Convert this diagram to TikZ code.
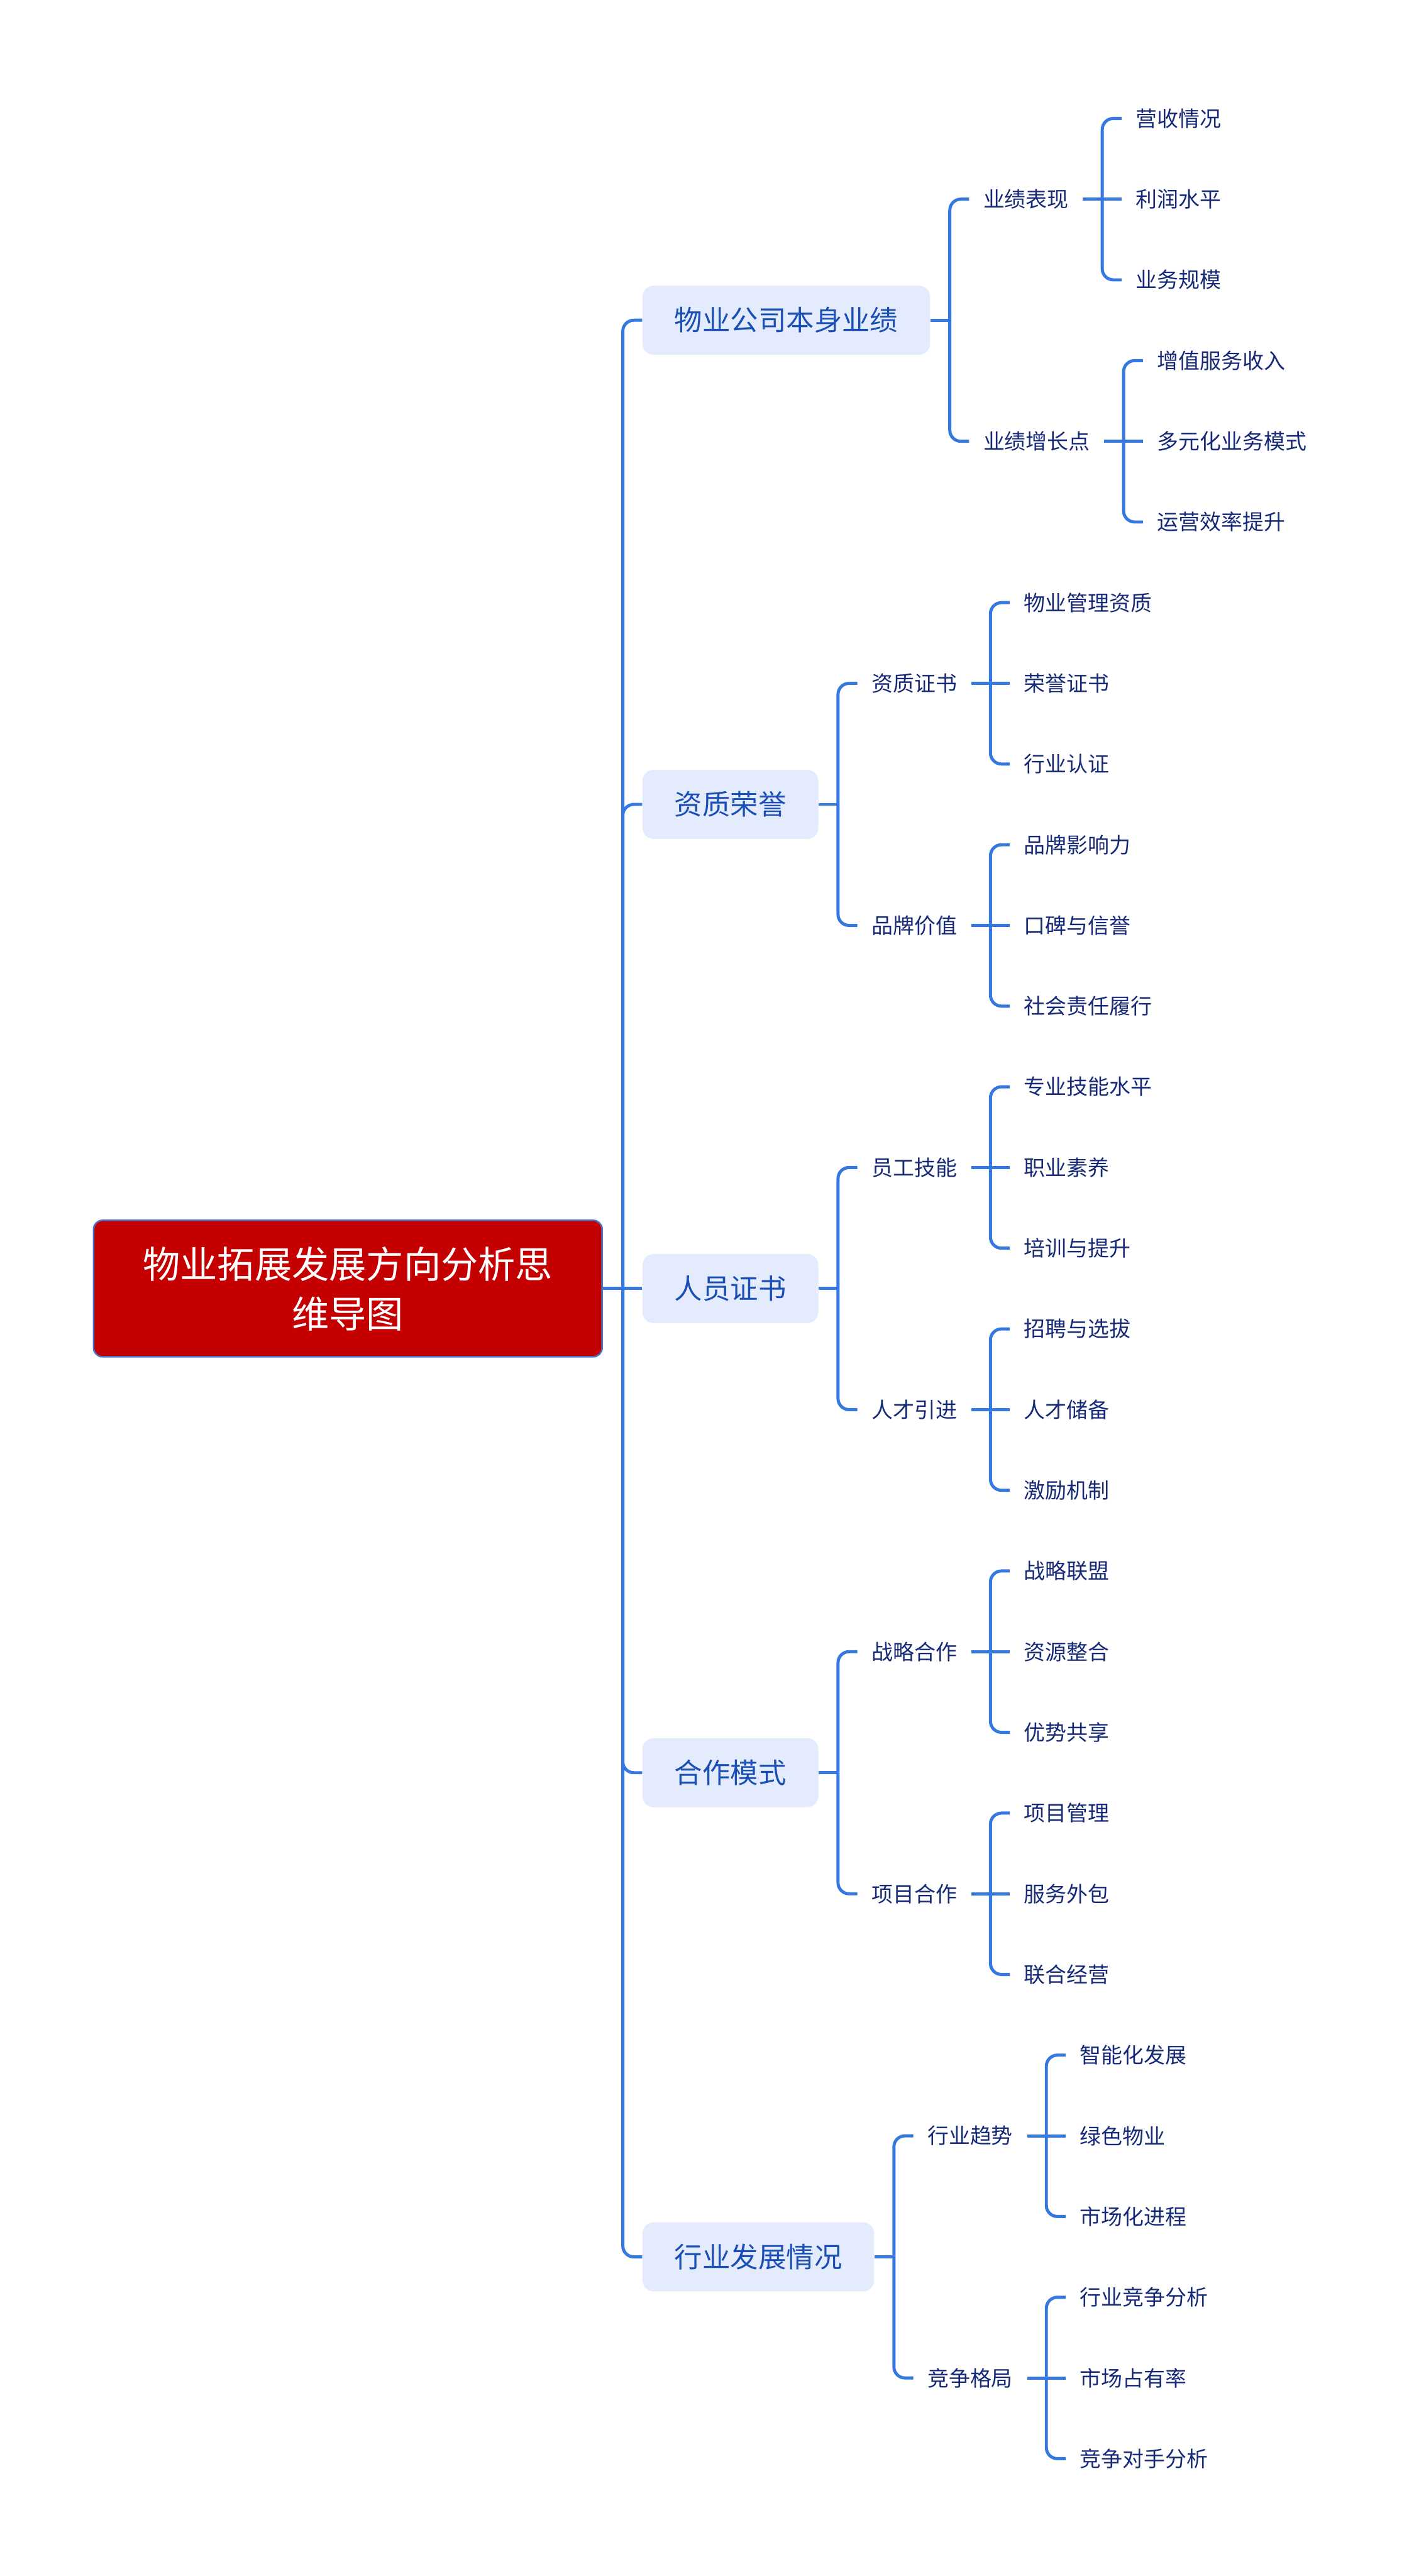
\documentclass[tikz,border=0pt]{standalone}
\usepackage{fontspec}
\setmainfont{Noto Sans CJK SC}
\usetikzlibrary{positioning}
\definecolor{rootred}{HTML}{C40000}
\definecolor{rootedge}{HTML}{4A72C8}
\definecolor{topicbg}{HTML}{E4EBFC}
\definecolor{topicfg}{HTML}{1A4FB5}
\definecolor{leaffg}{HTML}{172A77}
\definecolor{linkblue}{HTML}{3478E0}

\begin{document}
\begin{tikzpicture}[
    node distance=7.1mm,
    root/.style={draw=rootedge,line width=0.8pt,fill=rootred,text=white,rounded corners=1.6mm,align=center,
                 font=\fontsize{19.2}{25.6}\selectfont,minimum width=92.1mm,minimum height=24.7mm,inner sep=0pt},
    topic/.style={fill=topicbg,text=topicfg,rounded corners=2mm,font=\fontsize{14.4}{17}\selectfont,
                  minimum height=12.5mm,inner xsep=5.8mm,inner ysep=0pt},
    sub/.style={text=leaffg,font=\fontsize{11}{13}\selectfont,inner xsep=2.5mm,inner ysep=1mm},
    leaf/.style={sub},
    link/.style={linkblue,line width=1.6pt},
    elbow/.style={link,rounded corners=2mm}]
    \fill[white] (-6.3,-23.31) rectangle (19.3,23.33);
    \useasboundingbox (-6.3,-23.31) rectangle (19.3,23.33);

    \node[root] (root) {物业拓展发展方向分析思\\维导图};

    % main topics
    \node[topic,right=of root,yshift=175.32mm] (perf) {物业公司本身业绩};
    \node[topic,right=of root,yshift=87.66mm] (hon) {资质荣誉};
    \node[topic,right=of root] (staff) {人员证书};
    \node[topic,right=of root,yshift=-87.66mm] (coop) {合作模式};
    \node[topic,right=of root,yshift=-175.32mm] (ind) {行业发展情况};

    % sub topics
    \node[sub,right=7mm of perf,yshift=21.92mm] (perf1) {业绩表现};
    \node[sub,right=7mm of perf,yshift=-21.92mm] (perf2) {业绩增长点};
    \node[sub,right=7mm of hon,yshift=21.92mm] (hon1) {资质证书};
    \node[sub,right=7mm of hon,yshift=-21.92mm] (hon2) {品牌价值};
    \node[sub,right=7mm of staff,yshift=21.92mm] (staff1) {员工技能};
    \node[sub,right=7mm of staff,yshift=-21.92mm] (staff2) {人才引进};
    \node[sub,right=7mm of coop,yshift=21.92mm] (coop1) {战略合作};
    \node[sub,right=7mm of coop,yshift=-21.92mm] (coop2) {项目合作};
    \node[sub,right=7mm of ind,yshift=21.92mm] (ind1) {行业趋势};
    \node[sub,right=7mm of ind,yshift=-21.92mm] (ind2) {竞争格局};

    % leaves
    \node[leaf,right=7mm of perf1,yshift=14.61mm] (perf1a) {营收情况};
    \node[leaf,right=7mm of perf1] (perf1b) {利润水平};
    \node[leaf,right=7mm of perf1,yshift=-14.61mm] (perf1c) {业务规模};
    \node[leaf,right=7mm of perf2,yshift=14.61mm] (perf2a) {增值服务收入};
    \node[leaf,right=7mm of perf2] (perf2b) {多元化业务模式};
    \node[leaf,right=7mm of perf2,yshift=-14.61mm] (perf2c) {运营效率提升};
    \node[leaf,right=7mm of hon1,yshift=14.61mm] (hon1a) {物业管理资质};
    \node[leaf,right=7mm of hon1] (hon1b) {荣誉证书};
    \node[leaf,right=7mm of hon1,yshift=-14.61mm] (hon1c) {行业认证};
    \node[leaf,right=7mm of hon2,yshift=14.61mm] (hon2a) {品牌影响力};
    \node[leaf,right=7mm of hon2] (hon2b) {口碑与信誉};
    \node[leaf,right=7mm of hon2,yshift=-14.61mm] (hon2c) {社会责任履行};
    \node[leaf,right=7mm of staff1,yshift=14.61mm] (staff1a) {专业技能水平};
    \node[leaf,right=7mm of staff1] (staff1b) {职业素养};
    \node[leaf,right=7mm of staff1,yshift=-14.61mm] (staff1c) {培训与提升};
    \node[leaf,right=7mm of staff2,yshift=14.61mm] (staff2a) {招聘与选拔};
    \node[leaf,right=7mm of staff2] (staff2b) {人才储备};
    \node[leaf,right=7mm of staff2,yshift=-14.61mm] (staff2c) {激励机制};
    \node[leaf,right=7mm of coop1,yshift=14.61mm] (coop1a) {战略联盟};
    \node[leaf,right=7mm of coop1] (coop1b) {资源整合};
    \node[leaf,right=7mm of coop1,yshift=-14.61mm] (coop1c) {优势共享};
    \node[leaf,right=7mm of coop2,yshift=14.61mm] (coop2a) {项目管理};
    \node[leaf,right=7mm of coop2] (coop2b) {服务外包};
    \node[leaf,right=7mm of coop2,yshift=-14.61mm] (coop2c) {联合经营};
    \node[leaf,right=7mm of ind1,yshift=14.61mm] (ind1a) {智能化发展};
    \node[leaf,right=7mm of ind1] (ind1b) {绿色物业};
    \node[leaf,right=7mm of ind1,yshift=-14.61mm] (ind1c) {市场化进程};
    \node[leaf,right=7mm of ind2,yshift=14.61mm] (ind2a) {行业竞争分析};
    \node[leaf,right=7mm of ind2] (ind2b) {市场占有率};
    \node[leaf,right=7mm of ind2,yshift=-14.61mm] (ind2c) {竞争对手分析};

    % root to topics
    \draw[link] (root.east) -- ++(3.6mm,0) coordinate (jroot);
    \draw[elbow] (jroot) |- (perf.west);
    \draw[elbow] (jroot) |- (hon.west);
    \draw[link] (jroot) -- (staff.west);
    \draw[elbow] (jroot) |- (coop.west);
    \draw[elbow] (jroot) |- (ind.west);

    % topics to sub topics
    \draw[link] (perf.east) -- ++(3.5mm,0) coordinate (jperf);
    \draw[elbow] (jperf) |- (perf1.west); \draw[elbow] (jperf) |- (perf2.west);
    \draw[link] (hon.east) -- ++(3.5mm,0) coordinate (jhon);
    \draw[elbow] (jhon) |- (hon1.west); \draw[elbow] (jhon) |- (hon2.west);
    \draw[link] (staff.east) -- ++(3.5mm,0) coordinate (jstaff);
    \draw[elbow] (jstaff) |- (staff1.west); \draw[elbow] (jstaff) |- (staff2.west);
    \draw[link] (coop.east) -- ++(3.5mm,0) coordinate (jcoop);
    \draw[elbow] (jcoop) |- (coop1.west); \draw[elbow] (jcoop) |- (coop2.west);
    \draw[link] (ind.east) -- ++(3.5mm,0) coordinate (jind);
    \draw[elbow] (jind) |- (ind1.west); \draw[elbow] (jind) |- (ind2.west);

    % sub topics to leaves
    \draw[link] (perf1.east) -- (perf1b.west); \path (perf1.east) ++(3.5mm,0) coordinate (jperf1);
    \draw[elbow] (jperf1) |- (perf1a.west); \draw[elbow] (jperf1) |- (perf1c.west);
    \draw[link] (perf2.east) -- (perf2b.west); \path (perf2.east) ++(3.5mm,0) coordinate (jperf2);
    \draw[elbow] (jperf2) |- (perf2a.west); \draw[elbow] (jperf2) |- (perf2c.west);
    \draw[link] (hon1.east) -- (hon1b.west); \path (hon1.east) ++(3.5mm,0) coordinate (jhon1);
    \draw[elbow] (jhon1) |- (hon1a.west); \draw[elbow] (jhon1) |- (hon1c.west);
    \draw[link] (hon2.east) -- (hon2b.west); \path (hon2.east) ++(3.5mm,0) coordinate (jhon2);
    \draw[elbow] (jhon2) |- (hon2a.west); \draw[elbow] (jhon2) |- (hon2c.west);
    \draw[link] (staff1.east) -- (staff1b.west); \path (staff1.east) ++(3.5mm,0) coordinate (jstaff1);
    \draw[elbow] (jstaff1) |- (staff1a.west); \draw[elbow] (jstaff1) |- (staff1c.west);
    \draw[link] (staff2.east) -- (staff2b.west); \path (staff2.east) ++(3.5mm,0) coordinate (jstaff2);
    \draw[elbow] (jstaff2) |- (staff2a.west); \draw[elbow] (jstaff2) |- (staff2c.west);
    \draw[link] (coop1.east) -- (coop1b.west); \path (coop1.east) ++(3.5mm,0) coordinate (jcoop1);
    \draw[elbow] (jcoop1) |- (coop1a.west); \draw[elbow] (jcoop1) |- (coop1c.west);
    \draw[link] (coop2.east) -- (coop2b.west); \path (coop2.east) ++(3.5mm,0) coordinate (jcoop2);
    \draw[elbow] (jcoop2) |- (coop2a.west); \draw[elbow] (jcoop2) |- (coop2c.west);
    \draw[link] (ind1.east) -- (ind1b.west); \path (ind1.east) ++(3.5mm,0) coordinate (jind1);
    \draw[elbow] (jind1) |- (ind1a.west); \draw[elbow] (jind1) |- (ind1c.west);
    \draw[link] (ind2.east) -- (ind2b.west); \path (ind2.east) ++(3.5mm,0) coordinate (jind2);
    \draw[elbow] (jind2) |- (ind2a.west); \draw[elbow] (jind2) |- (ind2c.west);
\end{tikzpicture}
\end{document}
